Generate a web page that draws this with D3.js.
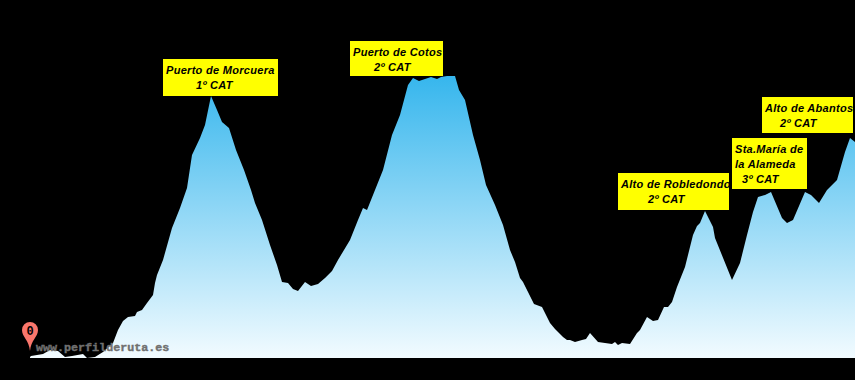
<!DOCTYPE html>
<html>
<head>
<meta charset="utf-8">
<script src="https://cdn.jsdelivr.net/npm/d3@7"></script>
<style>
  html, body { margin: 0; padding: 0; background: #000; }
  svg { display: block; }
  .port { font-family: "Liberation Sans", sans-serif; font-weight: bold; font-style: italic; font-size: 11px; letter-spacing: 0.3px; fill: #000; }
  .mark { font-family: "Liberation Mono", monospace; font-weight: bold; font-size: 11.7px; fill: #707070; stroke: #707070; stroke-width: 0.4px; }
</style>
</head>
<body>
<div id="chart"></div>
<script>
// profile: distance along the route and height above the base line
const distances = [0,1,13,20,28,35,42,53,57,65,73,83,88,93,98,105,107,112,117,123,125,127,133,142,150,157,162,170,175,181,187,192,199,206,214,221,225,232,240,247,252,258,263,268,275,281,288,295,302,308,320,328,333,337,345,353,362,370,378,383,389,395,401,407,411,417,425,429,435,443,450,456,465,473,480,485,490,493,498,504,512,520,525,533,537,540,545,552,556,560,568,582,585,588,592,600,607,610,617,623,628,634,638,642,647,655,663,667,670,675,683,685,702,710,717,723,728,735,741,752,757,763,775,781,789,797,807,815,820,825];
const heights = [1,2,4,8,7,1,2,4,0,1,6,15,28,37,41,42,46,48,55,63,75,83,98,130,150,170,203,220,233,262,248,236,230,208,188,168,155,138,113,93,76,75,69,67,76,72,74,80,87,98,118,138,150,148,168,188,223,243,273,280,277,279,281,279,281,282,282,268,258,223,198,173,153,133,108,96,80,76,66,54,51,35,29,21,18,18,16,18,19,25,16,14,16,13,15,14,25,28,41,37,38,51,51,56,71,91,123,132,135,147,131,120,78,95,123,146,161,163,166,140,135,138,166,163,155,168,178,206,220,216];
const peakNames = [["Puerto de Morcuera"],["Puerto de Cotos"],["Alto de Robledondo"],["Sta.María de","la Alameda"],["Alto de Abantos"]];
const peakCats = ["1º CAT","2º CAT","2º CAT","3º CAT","2º CAT"];
const startLabel = "0";
const watermark = "www.perfilderuta.es";

// boxes sit by hand around the summits
const boxes = [
  {x: 163, y: 59, w: 115, h: 37, tx: 3, catX: 33},
  {x: 350, y: 41, w: 93, h: 35, tx: 3, catX: 24},
  {x: 618, y: 173, w: 111, h: 37, tx: 3, catX: 30},
  {x: 732, y: 138, w: 75, h: 51, tx: 3, catX: 10},
  {x: 762, y: 97, w: 91, h: 36, tx: 3, catX: 18}
];

const width = 855, height = 380;
const x = d3.scaleLinear().domain([0, 825]).range([30, 855]);
const y = d3.scaleLinear().domain([0, 282]).range([358, 76]);

const svg = d3.select("#chart").append("svg")
    .attr("width", width)
    .attr("height", height)
    .style("background", "#000");

const grad = svg.append("defs").append("linearGradient")
    .attr("id", "fade")
    .attr("gradientUnits", "userSpaceOnUse")
    .attr("x1", 0).attr("x2", 0)
    .attr("y1", y(282)).attr("y2", y(0));
grad.append("stop").attr("offset", "0%").attr("stop-color", "#36b6ed");
grad.append("stop").attr("offset", "100%").attr("stop-color", "#f2fbff");

const area = d3.area()
    .x((d, i) => x(distances[i]))
    .y0(y(0))
    .y1(d => y(d));

svg.append("path")
    .datum(heights)
    .attr("d", area)
    .attr("fill", "url(#fade)");

// watermark over the start of the profile
svg.append("text")
    .attr("class", "mark")
    .attr("x", 36).attr("y", 351)
    .text(watermark);

// start pin
const pin = svg.append("g").attr("transform", `translate(${x(0)},${y(0) - 7})`);
pin.append("path")
    .attr("d", "M0,0 C-1,-11 -8,-14 -8,-21 A8,8 0 1 1 8,-21 C8,-14 1,-11 0,0 Z")
    .attr("fill", "#f9766c");
pin.append("text")
    .attr("x", 0).attr("y", -16)
    .attr("text-anchor", "middle")
    .style("font", "bold 12px 'Liberation Mono', monospace")
    .text(startLabel);

// yellow labels
const labels = svg.selectAll(".label")
    .data(boxes)
  .join("g")
    .attr("class", "label")
    .attr("transform", d => `translate(${d.x},${d.y})`);

labels.append("rect")
    .attr("width", d => d.w)
    .attr("height", d => d.h)
    .attr("fill", "#ffff00");

labels.each(function(d, i) {
  const g = d3.select(this);
  peakNames[i].forEach((line, j) => {
    g.append("text")
      .attr("class", "port")
      .attr("x", d.tx)
      .attr("y", 15 + j * 15)
      .text(line);
  });
  g.append("text")
    .attr("class", "port")
    .attr("x", d.catX)
    .attr("y", 15 + peakNames[i].length * 15)
    .text(peakCats[i]);
});
</script>
</body>
</html>
